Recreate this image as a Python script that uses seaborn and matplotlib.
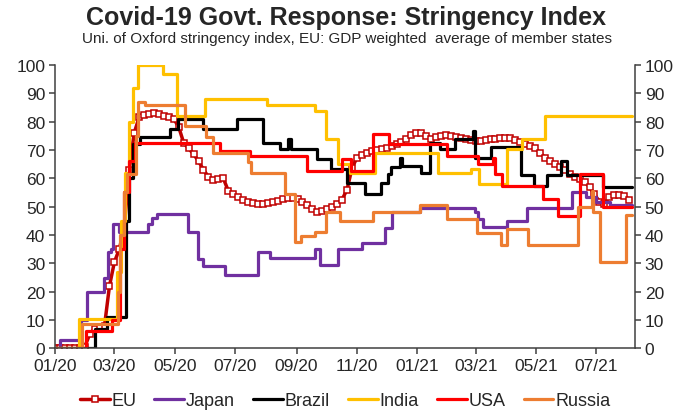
import numpy as np
import pandas as pd
import matplotlib.pyplot as plt
import matplotlib.dates as mdates
import seaborn as sns

start = pd.Timestamp('2020-01-01')

# days since 01/01/2020 where the index changes, and the new value
japan_days = [0, 5, 26, 32, 49, 54, 57, 59, 65, 94, 98, 103, 134, 144, 149, 172, 205, 217,
              263, 268, 286, 310, 333, 340, 369, 424, 427, 432, 457, 477, 522, 536, 547, 561, 583]
japan_vals = [0, 3, 10, 20, 25, 34, 35, 44, 41, 44, 46, 47.5, 41, 31.5, 29.2, 26, 34, 32,
              35, 29.5, 35, 37, 42.5, 48, 49.5, 48, 45.5, 42.7, 45, 49.4, 55, 53.5, 51.5, 50.5, 50.5]

brazil_days = [0, 40, 53, 72, 75, 79, 86, 116, 124, 150, 184, 210, 227, 235, 238, 265, 279, 295,
               313, 329, 336, 339, 349, 351, 370, 379, 389, 404, 422, 424, 440, 471, 484, 497,
               511, 517, 554, 583]
brazil_vals = [0, 7, 11, 45, 60, 72, 74.5, 77.3, 81, 77.3, 81, 72.6, 70.2, 74, 70.2, 66.7, 63.4, 58.3,
               54.4, 58.5, 61.5, 64, 67, 64.5, 62, 72.3, 70.2, 73.8, 76.5, 67.3, 70.9, 61, 57.3, 61,
               66, 61, 57, 57]

india_days = [0, 24, 63, 67, 71, 75, 79, 84, 109, 123, 152, 214, 263, 274, 286, 298, 323, 387,
              420, 428, 457, 472, 495, 583]
india_vals = [0, 10.4, 27, 45, 62, 80, 92, 100, 96.7, 82, 87.9, 85.7, 83.7, 73.8, 65, 62, 68.8, 61.8,
              63.4, 58, 70.2, 73.8, 82, 82]

usa_days = [0, 31, 58, 66, 70, 75, 81, 167, 197, 255, 290, 299, 321, 337, 396, 427, 442, 444,
            452, 493, 508, 530, 554, 583]
usa_vals = [0, 6, 10, 35, 55, 66, 72.6, 69.7, 67.7, 62.6, 66.7, 62.6, 75.5, 72, 68, 65, 67, 61.4,
            57.3, 52.6, 46.8, 61.4, 49.7, 49.7]

russia_days = [0, 27, 64, 66, 70, 73, 82, 84, 91, 131, 153, 160, 195, 198, 232, 242, 249, 263,
               274, 288, 321, 369, 396, 426, 451, 457, 478, 528, 542, 544, 551, 577, 583]
russia_vals = [0, 8.6, 20, 40, 55, 61.4, 75, 87, 85.7, 78.5, 74.4, 68.8, 65.6, 62, 54.4, 37.4, 39.7, 41,
               48, 44.8, 48, 50.5, 45.8, 40.7, 36.4, 42, 36.4, 50, 55.5, 48, 30.5, 47, 47]

# EU: GDP weighted average, read every 5 days
eu_vals = [0, 0, 0, 0, 0, 0, 0.5, 5, 7, 7.5,
           8, 22, 30.5, 35, 43, 63, 76, 81.5, 82.2, 82.5,
           83, 82.8, 82, 81.5, 81, 78, 72.5, 70.5, 68.5, 66,
           63, 60.5, 59.5, 59.8, 60, 55.6, 54.5, 53.3, 52.5, 51.5,
           51.2, 51, 51, 51.2, 51.5, 52, 52.6, 53.2, 53, 52.8,
           51.8, 50.5, 49.3, 48, 48.5, 49.2, 50, 51, 52.5, 56,
           63.5, 67.3, 68.2, 69, 69.5, 70, 70.4, 70.8, 71.5, 72.2,
           72.8, 74, 75.2, 75.8, 76, 75, 74, 74.4, 74.8, 75.2,
           75, 74.5, 74.1, 73.8, 73.5, 73.2, 73, 73.4, 73.8, 74,
           74.1, 74.2, 74.3, 73.5, 72.8, 72, 71.3, 70.5, 69, 67.3,
           66, 65, 64, 62.8, 61.6, 60.5, 59.6, 58.6, 57, 54.3,
           51.8, 51, 53.5, 54.2, 54, 53.8, 52.5]
eu_days = np.arange(0, 5 * len(eu_vals), 5)

series = [
    ('Japan', japan_days, japan_vals, '#7030A0'),
    ('Brazil', brazil_days, brazil_vals, 'black'),
    ('India', india_days, india_vals, '#FFC000'),
    ('USA', usa_days, usa_vals, '#FF0000'),
    ('Russia', russia_days, russia_vals, '#ED7D31'),
]


def frame(days, vals):
    return pd.DataFrame({'date': start + pd.to_timedelta(days, unit='D'), 'value': vals})


sns.set_theme(style='ticks')
plt.rcParams['font.family'] = ['Liberation Sans', 'DejaVu Sans']

fig = plt.figure(figsize=(6.93, 4.14), dpi=100)
ax = fig.add_axes([0.0794, 0.156, 0.837, 0.685])

sns.lineplot(data=frame(eu_days, eu_vals), x='date', y='value', ax=ax, color='#C00000',
             lw=2.5, marker='s', markersize=3.8, markerfacecolor='white',
             markeredgecolor='#C00000', markeredgewidth=1.1, label='EU')
for name, d, v, c in series:
    sns.lineplot(data=frame(d, v), x='date', y='value', ax=ax, color=c, lw=2.3,
                 drawstyle='steps-post', label=name)

ax.set_xlim(start, start + pd.Timedelta(days=586))
ax.set_ylim(0, 100)
ax.set_yticks(range(0, 101, 10))
ax.set_xticks(pd.date_range('2020-01-01', '2021-07-01', freq='2MS'))
ax.xaxis.set_major_formatter(mdates.DateFormatter('%m/%y'))
ax.set_xlabel('')
ax.set_ylabel('')

sns.despine(ax=ax, top=True, right=False)
for s in ['left', 'right', 'bottom']:
    ax.spines[s].set_color('#404040')
    ax.spines[s].set_linewidth(1.1)
ax.tick_params(axis='both', direction='out', length=4, width=1.1, color='#404040',
               labelsize=12.5, labelcolor='#262626', pad=3)
ax.tick_params(axis='y', right=True, labelright=True)

ax.legend(loc='center', bbox_to_anchor=(0.5, -0.185), ncol=6, frameon=False, numpoints=1,
          fontsize=13, handlelength=1.65, handletextpad=0.1, columnspacing=1.0)

fig.text(0.5, 0.957, 'Covid-19 Govt. Response: Stringency Index', ha='center', va='center',
         fontsize=18, fontweight='bold')
fig.text(0.5, 0.906, 'Uni. of Oxford stringency index, EU: GDP weighted  average of member states',
         ha='center', va='center', fontsize=11)

fig.savefig('out.png', dpi=100)
